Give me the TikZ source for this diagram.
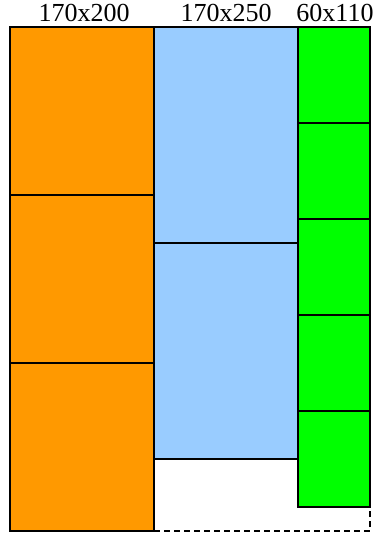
\documentclass[tikz,border=0pt]{standalone}
\usepackage{fontspec}
\setmainfont{Liberation Serif}
\definecolor{boxorange}{RGB}{255,153,0}
\definecolor{boxblue}{RGB}{153,204,255}
\definecolor{boxgreen}{RGB}{0,255,0}

\begin{document}
\begin{tikzpicture}[x=1pt,y=-1pt,line width=1.8pt]
\useasboundingbox (0,0) rectangle (379,535);
\foreach \i in {0,1,2} {\draw[fill=boxorange] (10,27+168*\i) rectangle (154,195+168*\i);}
\foreach \i in {0,1} {\draw[fill=boxblue] (154,27+216*\i) rectangle (298,243+216*\i);}
\foreach \i in {0,...,4} {\draw[fill=boxgreen] (298,27+96*\i) rectangle (370,123+96*\i);}
\draw[dashed,dash pattern=on 6pt off 4pt] (154,531) -- (370,531) -- (370,507);
\foreach \x/\t [count=\n] in {84/170x200,226/170x250,335/60x110}
  {\node[font=\fontsize{26}{26}\selectfont,inner sep=0pt] (size\n) at (\x,12.5) {\t};}
\end{tikzpicture}
\end{document}
